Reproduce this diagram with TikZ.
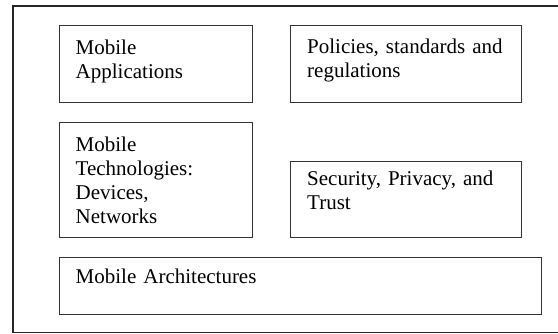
\documentclass[tikz,border=0pt]{standalone}
\usepackage{fontspec}
\setmainfont{Liberation Serif}
\usetikzlibrary{positioning}

\begin{document}
\begin{tikzpicture}[
    x=1pt, y=-1pt,
    % --- Styles ---
    frame/.style={
        draw=black!85,
        line width=1.5pt
    },
    layer/.style={
        rectangle,
        draw=black!80,
        line width=1.1pt,
        anchor=north west,
        inner sep=0pt
    },
    caption/.style={
        anchor=base west,
        inner sep=0pt,
        align=left,
        text width=215pt,
        font=\fontsize{21}{24}\selectfont
    }
]
\useasboundingbox (0,0) rectangle (558,334);

% --- Outer frame (runs off to the right) ---
\draw[frame] (570,6) -- (13,6) -- (13,332.5) -- (570,332.5);

% --- Boxes ---
\node[layer, minimum width=193.5pt, minimum height=77pt] (apps) at (58.5,25) {};
\node[layer, minimum width=231pt, minimum height=77pt] (policies) at (290,25) {};
\node[layer, minimum width=193.5pt, minimum height=115pt] (tech) at (58.5,122) {};
\node[layer, minimum width=231pt, minimum height=76pt] (security) at (290,161) {};
\node[layer, minimum width=482.5pt, minimum height=57pt] (arch) at (58.5,257) {};

% --- Texts ---
\node[caption, below right=30pt and 17pt of apps.north west, anchor=base west] (appstext)
    {Mobile\\Applications};
\node[caption, below right=29pt and 17pt of policies.north west, anchor=base west] (policiestext)
    {Policies, standards and\\regulations};
\node[caption, below right=30pt and 17pt of tech.north west, anchor=base west] (techtext)
    {Mobile\\Technologies:\\Devices,\\Networks};
\node[caption, below right=25pt and 17pt of security.north west, anchor=base west] (securitytext)
    {Security, Privacy, and\\Trust};
\node[caption, below right=27pt and 17pt of arch.north west, anchor=base west] (archtext)
    {Mobile Architectures};

\end{tikzpicture}
\end{document}
